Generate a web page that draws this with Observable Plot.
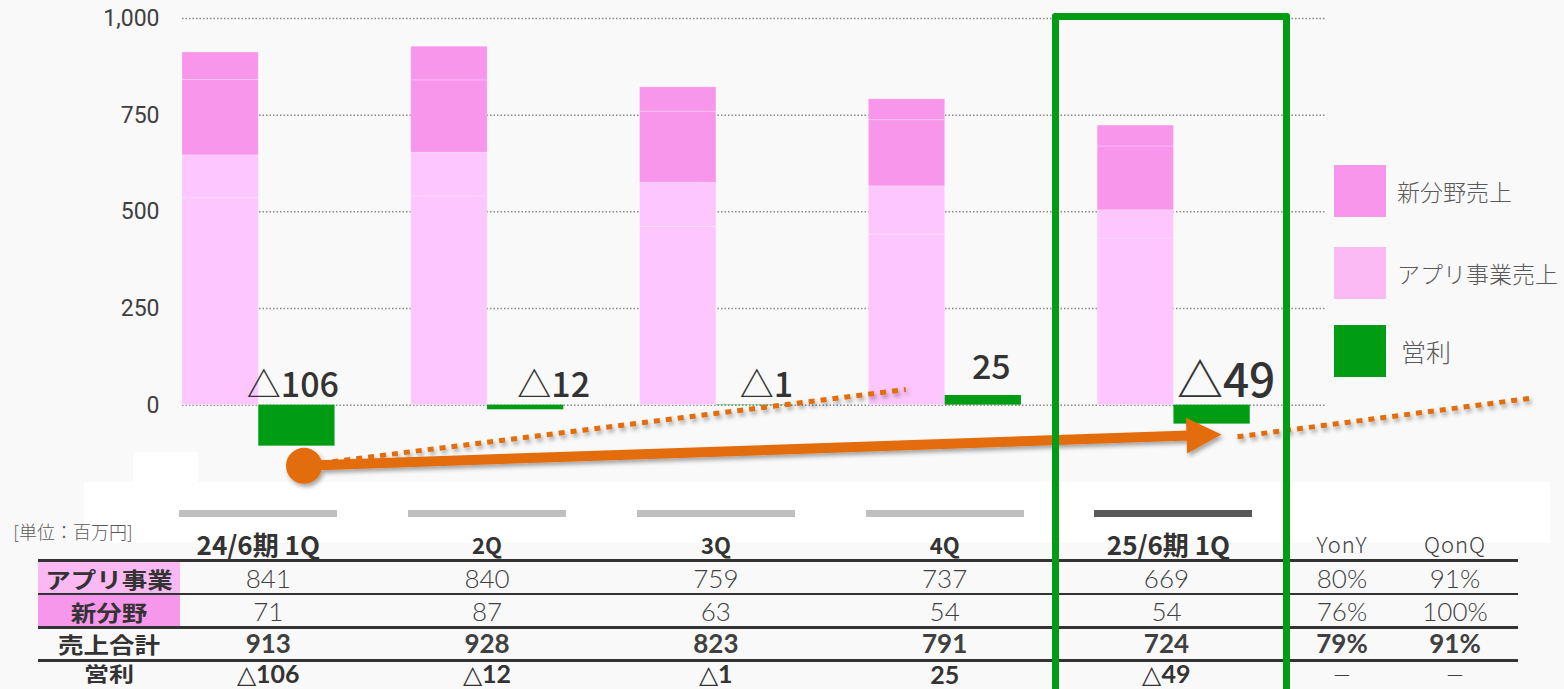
<!DOCTYPE html>
<html><head><meta charset="utf-8">
<script src="https://cdn.jsdelivr.net/npm/d3@7"></script>
<script src="https://cdn.jsdelivr.net/npm/@observablehq/plot@0.6"></script>
<style>
body{margin:0;background:#F9F9F9;}
#page{position:relative;width:1564px;height:689px;overflow:hidden;font-family:"Noto Sans CJK JP",sans-serif;color:#333;}
.abs{position:absolute;}
.cell{position:absolute;transform:translate(-50%,-50%);white-space:nowrap;line-height:1;}
.num{font-family:Lato,"Noto Sans CJK JP",sans-serif;}
.tri{font-family:"DejaVu Sans",sans-serif;font-weight:300;font-size:25px;}
#chart{position:absolute;left:0;top:0;}
#chart svg{overflow:visible;}
</style></head><body><div id="page">
<div class="abs" style="left:84px;top:482px;width:1466px;height:61px;background:#fff"></div>
<div class="abs" style="left:133px;top:452px;width:65px;height:30px;background:#fff"></div>
<div id="chart"></div>
<div id="table"></div>
<div id="legend"></div>
<div class="abs" style="left:1052px;top:13px;width:238px;height:720px;border:7px solid #009C14;border-radius:3px;box-sizing:border-box;"></div>
</div>
<script>
// ---- data ----
const quarters = ["24/6期 1Q", "2Q", "3Q", "4Q", "25/6期 1Q"];
const appSales = [841, 840, 759, 737, 669];
const newSales = [71, 87, 63, 54, 54];
const totalSales = [913, 928, 823, 791, 724];
const opProfit = [-106, -12, -1, 25, -49];
// internal bands of the app-sales bar as drawn in the picture (cumulative tops)
const appBandLow = [535, 540, 461, 441, 431];
const appBandMid = [646, 653, 575, 566, 504];
const yTicks = [0, 250, 500, 750, 1000];
const yonyLabels = ["80%", "76%", "79%", "—"];
const qonqLabels = ["91%", "100%", "91%", "—"];
const rowLabels = ["アプリ事業", "新分野", "売上合計", "営利"];
const legendLabels = ["新分野売上", "アプリ事業売上", "営利"];
// trend annotations (x in quarter index units, y in 百万円)
const trendSolid = [[0.2, -158], [4.21, -77]];
const trendDot1 = [[0.22, -155], [2.83, 39]];
const trendDot2 = [[4.28, -83], [5.58, 18]];

// ---- layout ----
const labelNudge = [-4, 28, 12, 8, 14]; // px offset of profit labels from green bar centre

const LIGHT = "#FDC6FE", DARK = "#F896EC", GREEN = "#009C14", ORANGE = "#E36C09";
const fmt = v => v < 0 ? "△" + Math.abs(v) : String(v);

const segments = [];
quarters.forEach((q, i) => {
  segments.push({i, y1: 0, y2: appBandLow[i], fill: LIGHT});
  segments.push({i, y1: appBandLow[i], y2: appBandMid[i], fill: LIGHT});
  segments.push({i, y1: appBandMid[i], y2: appSales[i], fill: DARK});
  segments.push({i, y1: appSales[i], y2: appSales[i] + newSales[i], fill: DARK});
});
const profit = quarters.map((q, i) => ({i, v: opProfit[i]}));
const PX = 228.8; // px per quarter (only used to convert label nudges)

const plot = Plot.plot({
  width: 1564, height: 482,
  marginLeft: 182, marginRight: 238, marginTop: 18, marginBottom: 0,
  style: {background: "transparent", overflow: "visible"},
  x: {domain: [-1/3, 14/3], axis: null},
  y: {domain: [-200, 1000], label: null},
  marks: [
    Plot.ruleY(yTicks, {x1: -1/3, x2: 14/3, stroke: "#8a8a8a", strokeWidth: 1.5, strokeDasharray: "1.5,2"}),
    Plot.axisY(yTicks, {tickSize: 0, tickPadding: 23, fontSize: 23, fill: "#404040", fontFamily: "Roboto", label: null,
      tickFormat: d => d3.format(",")(d)}),
    Plot.rectY(segments, {x1: d => d.i - 1/3, x2: d => d.i, y1: "y1", y2: "y2", fill: "fill", stroke: "#ffffff", strokeOpacity: 0.22, strokeWidth: 1}),
    Plot.rectY(profit, {x1: d => d.i, x2: d => d.i + 1/3, y1: 0, y2: "v", fill: GREEN}),
    Plot.text(profit.filter(d => d.v < 0), {x: d => d.i + 1/6 + labelNudge[d.i] / PX, y: 0, text: d => fmt(d.v), dy: -8, lineAnchor: "bottom",
      fontSize: d => d.i === 4 ? 46 : 34, fontWeight: 500, fill: "#333", fontFamily: "Noto Sans CJK JP"}),
    Plot.text(profit.filter(d => d.v >= 0), {x: d => d.i + 1/6 + labelNudge[d.i] / PX, y: "v", text: d => fmt(d.v), dy: -17, lineAnchor: "bottom",
      fontSize: 34, fontWeight: 500, fill: "#333", fontFamily: "Noto Sans CJK JP"})
  ]
});
document.getElementById("chart").appendChild(plot);

const sx = plot.scale("x"), sy = plot.scale("y");
const P = ([a, b]) => [sx.apply(a), sy.apply(b)];
const svg = d3.select(plot);
const defs = svg.append("defs");
const f = defs.append("filter").attr("id", "sh").attr("x", "-20%").attr("y", "-50%").attr("width", "140%").attr("height", "200%");
f.append("feDropShadow").attr("dx", 2).attr("dy", 3).attr("stdDeviation", 2).attr("flood-color", "#000").attr("flood-opacity", 0.35);
const g = svg.append("g").attr("filter", "url(#sh)");
function dotted(pts) {
  const [a, b] = pts.map(P);
  g.append("line").attr("x1", a[0]).attr("y1", a[1]).attr("x2", b[0]).attr("y2", b[1])
    .attr("stroke", ORANGE).attr("stroke-width", 5).attr("stroke-dasharray", "6,6");
}
dotted(trendDot1);
dotted(trendDot2);
{
  const [c, t] = trendSolid.map(P);
  const dx = t[0] - c[0], dy = t[1] - c[1], L = Math.hypot(dx, dy);
  const ux = dx / L, uy = dy / L, nx = -uy, ny = ux;
  const bx = t[0] - 35 * ux, by = t[1] - 35 * uy;
  g.append("line").attr("x1", c[0]).attr("y1", c[1]).attr("x2", bx + 2 * ux).attr("y2", by + 2 * uy)
    .attr("stroke", ORANGE).attr("stroke-width", 10);
  g.append("polygon").attr("points", [[t[0], t[1]], [bx + 18 * nx, by + 18 * ny], [bx - 18 * nx, by - 18 * ny]].map(p => p.join(",")).join(" "))
    .attr("fill", ORANGE);
  g.append("circle").attr("cx", c[0]).attr("cy", c[1]).attr("r", 18).attr("fill", ORANGE);
}

// ---- table ----
const T = document.getElementById("table");
function cell(txt, x, y, style, cls) {
  const d = document.createElement("div");
  d.className = "cell" + (cls ? " " + cls : "");
  d.style.left = x + "px"; d.style.top = y + "px";
  d.style.cssText += style;
  d.innerHTML = txt;
  T.appendChild(d);
}
function box(x, y, w, h, bg) {
  const d = document.createElement("div");
  d.className = "abs";
  d.style.cssText = `left:${x}px;top:${y}px;width:${w}px;height:${h}px;background:${bg}`;
  T.appendChild(d);
}
const colX = quarters.map((q, i) => sx.apply(i));
const valX = colX.map((x, i) => i === 0 ? x + 10 : i === 4 ? x - 7 : x);
const yonyX = 1342, qonqX = 1455;
const rowY = [578, 611, 643, 674];
// header bars
colX.forEach((x, i) => box(x - 79, 510, 158, 7, i === 4 ? "#595959" : "#BFBFBF"));
cell("[単位：百万円]", 73, 531, "font-size:18px;color:#595959;font-weight:300;");
quarters.forEach((q, i) => {
  const big = (i === 0 || i === 4);
  cell(q, i === 4 ? colX[i] - 5 : colX[i], 544, `font-size:${big ? 26 : 22}px;font-weight:700;color:#333;`);
});
cell("YonY", yonyX, 543, "font-size:22px;font-weight:300;color:#404040;letter-spacing:1px;");
cell("QonQ", qonqX, 543, "font-size:22px;font-weight:300;color:#404040;letter-spacing:1px;");
// row label backgrounds
box(38, 561, 142, 32, "#FBB9F3");
box(38, 595, 142, 31, "#F797EB");
// lines
box(38, 559, 1480, 3, "#333");
box(38, 593, 1480, 2, "#333");
box(38, 626, 1480, 3, "#333");
box(38, 659, 1480, 3, "#333");
rowLabels.forEach((r, k) => {
  const fs = k === 3 ? 20 : 22, sc = k === 3 ? 1.25 : 1.16;
  cell(r, 109, rowY[k], `font-size:${fs}px;font-weight:700;color:#333;transform:translate(-50%,-50%) scaleX(${sc});`);
});
const rows = [appSales, newSales, totalSales];
rows.forEach((arr, k) => arr.forEach((v, i) =>
  cell(String(v), valX[i], rowY[k], `font-size:26px;font-weight:${k === 2 ? 700 : 300};color:#404040;`, "num")));
opProfit.forEach((v, i) => cell(v < 0 ? `<span class="tri">△</span>${Math.abs(v)}` : String(v),
  valX[i], rowY[3], "font-size:25px;font-weight:700;color:#333;", "num"));
[0, 1, 2, 3].forEach(k => {
  const w = k === 2 ? 700 : 300;
  const fs = k === 3 ? 22 : 26;
  cell(yonyLabels[k], yonyX, rowY[k], `font-size:${fs}px;font-weight:${w};color:#404040;`, "num");
  cell(qonqLabels[k], qonqX, rowY[k], `font-size:${fs}px;font-weight:${w};color:#404040;`, "num");
});

// ---- legend ----
const Lg = document.getElementById("legend");
const legendColors = [DARK, "#FBBAF3", GREEN];
const legendY = [165, 247, 325];
legendLabels.forEach((t, k) => {
  const s = document.createElement("div");
  s.className = "abs";
  s.style.cssText = `left:1334px;top:${legendY[k]}px;width:52px;height:52px;background:${legendColors[k]}`;
  Lg.appendChild(s);
  const l = document.createElement("div");
  l.className = "abs";
  l.style.cssText = `left:${k === 2 ? 1401 : 1397}px;top:${legendY[k] + 26}px;transform:translateY(-50%);font-size:${k === 2 ? 25 : 23}px;font-weight:300;color:#595959;white-space:nowrap;line-height:1;`;
  l.textContent = t;
  Lg.appendChild(l);
});
</script>
</body></html>
